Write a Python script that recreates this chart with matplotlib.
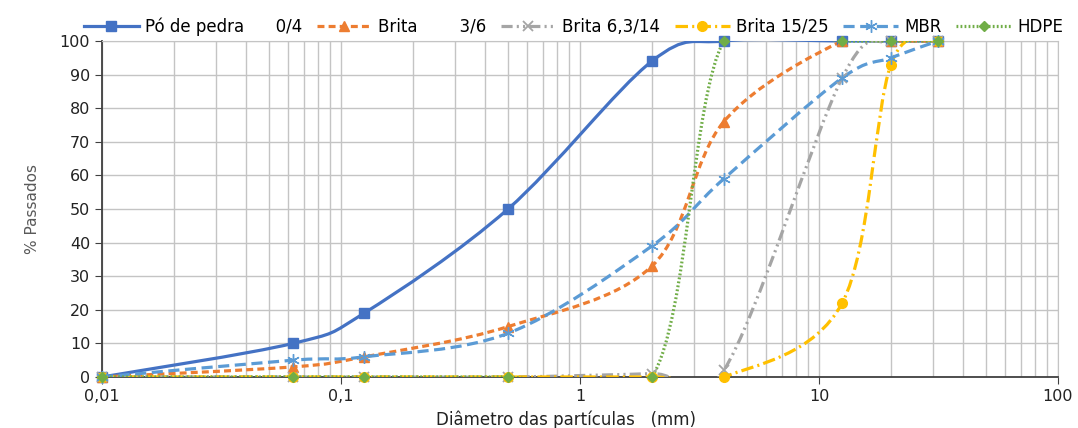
import numpy as np
import matplotlib
matplotlib.use("Agg")
import matplotlib.pyplot as plt
from matplotlib.path import Path
from matplotlib.patches import PathPatch
from matplotlib.lines import Line2D

plt.rcParams['font.family'] = ['DejaVu Sans']
plt.rcParams['lines.scale_dashes'] = False

# sieve sizes (mm)
sieves = [0.01, 0.063, 0.125, 0.5, 2, 4, 12.5, 20, 31.5]

po_pedra = [0, 10, 19, 50, 94, 100, 100, 100, 100]
brita_3_6 = [0, 3, 6, 15, 33, 76, 100, 100, 100]
brita_6_14 = [0, 0, 0, 0, 1, 2, 89, 100, 100]
brita_15_25 = [0, 0, 0, 0, 0, 0, 22, 93, 100]
mbr = [0, 5, 6, 13, 39, 59, 89, 95, 100]
hdpe = [0, 0, 0, 0, 0, 100, 100, 100, 100]

names = ["Pó de pedra      0/4", "Brita        3/6", "Brita 6,3/14",
         "Brita 15/25", "MBR", "HDPE"]
values = [po_pedra, brita_3_6, brita_6_14, brita_15_25, mbr, hdpe]
colors = ["#4472C4", "#ED7D31", "#A5A5A5", "#FFC000", "#5B9BD5", "#70AD47"]
styles = ["-", (0, (5, 3)), (0, (8, 3, 1.5, 3, 1.5, 3)),
          (0, (9, 3, 1.5, 3)), (0, (8, 4)), (0, (1.3, 1.6))]
markers = ["s", "^", "x", "o", (6, 2, 0), "D"]
msizes = [7, 7.5, 7, 7, 9, 5]
mews = [1, 1, 1.3, 1, 1, 1]

xticks = [0.01, 0.1, 1, 10, 100]
xticklabels = ["0,01", "0,1", "1", "10", "100"]


def smooth_path(xs, ys):
    # Excel-style smoothed line: cubic Bezier through the points (log x)
    p = np.column_stack([np.log10(xs), ys]).astype(float)
    n = len(p)
    verts = [p[0]]
    codes = [Path.MOVETO]
    for i in range(n - 1):
        p0 = p[max(i - 1, 0)]
        p1 = p[i]
        p2 = p[i + 1]
        p3 = p[min(i + 2, n - 1)]
        verts += [p1 + (p2 - p0) / 6, p2 - (p3 - p1) / 6, p2]
        codes += [Path.CURVE4] * 3
    v = np.array(verts)
    v[:, 0] = 10 ** v[:, 0]
    return Path(v, codes)


fig = plt.figure(figsize=(10.78, 4.28), dpi=100)
ax = fig.add_axes([0.0946, 0.1192, 0.8868, 0.785])
ax.set_xscale("log")
ax.set_xlim(0.01, 100)
ax.set_ylim(0, 100)

gc = "#C4C4C4"
ax.grid(True, which="major", color=gc, lw=1)
ax.grid(True, which="minor", axis="x", color=gc, lw=1)
ax.set_axisbelow(True)

handles = []
for name, v, c, ls, m, ms, mw in zip(names, values, colors, styles, markers,
                                     msizes, mews):
    ax.add_patch(PathPatch(smooth_path(sieves, v), fill=False, ec=c,
                           lw=2.3, ls=ls, zorder=3))
    ax.plot(sieves, v, ls="none", marker=m, ms=ms, color=c, mec=c,
            mew=mw, zorder=4, clip_on=False)
    handles.append(Line2D([], [], color=c, lw=2.3, ls=ls, marker=m, ms=ms,
                          mew=mw))

ax.set_xticks(xticks)
ax.set_xticklabels(xticklabels)
ax.set_yticks(range(0, 101, 10))
ax.tick_params(axis="both", which="major", labelsize=11.5, length=5,
               color="#404040", labelcolor="#222222")
ax.tick_params(axis="x", which="minor", length=0)
ax.tick_params(axis="x", pad=4)
for s in ["left", "bottom"]:
    ax.spines[s].set_color("#404040")
    ax.spines[s].set_linewidth(1.3)
for s in ["top", "right"]:
    ax.spines[s].set_color(gc)

ax.set_ylabel("% Passados", fontsize=11, color="#595959", labelpad=14)
fig.text(0.525, -0.002, "Diâmetro das partículas   (mm)", fontsize=12,
         color="#222222", ha="center", va="bottom")

fig.legend(handles=handles, labels=names, loc="upper center",
           bbox_to_anchor=(0.532, 0.995), ncol=6, frameon=False, fontsize=12,
           handlelength=3.3, handletextpad=0.35, columnspacing=0.9)

fig.savefig("out.png", dpi=100)
